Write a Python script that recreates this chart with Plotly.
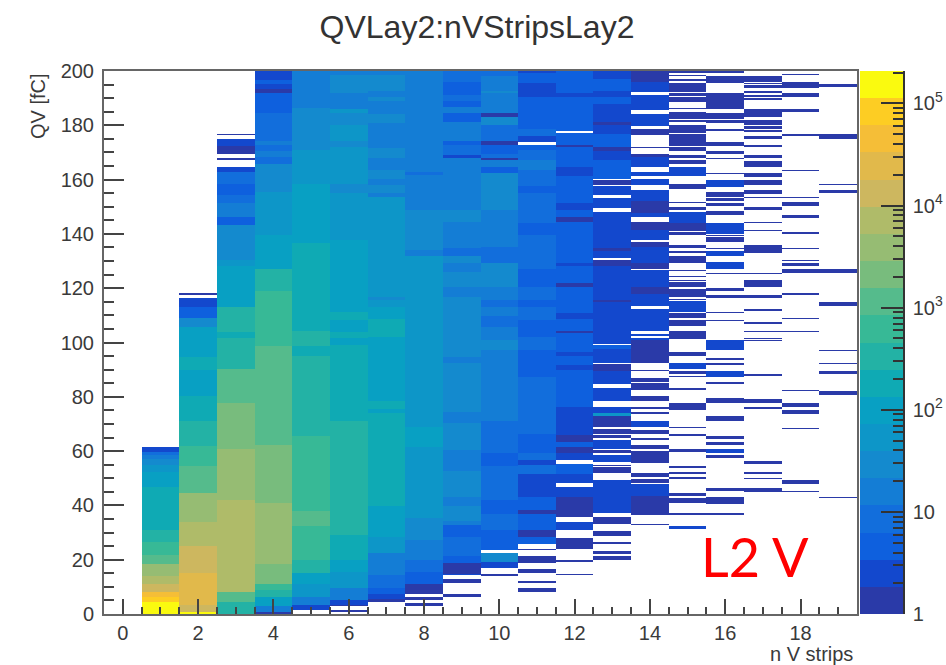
import numpy as np
import plotly.graph_objects as go

TITLE = "QVLay2:nVStripsLay2"
X_TITLE = "n V strips"
Y_TITLE = "QV [fC]"
TAG = "L2 V"
Q_MAX = 200.0
N_ROWS = 500
N_COLS = 20
Z_TOP = 2.08e5

# Dense columns: (upper Q edge, counts) going up from Q = 0; count 0 is an empty stretch.
col_01 = [(4.5,150000),(6.4,80000),(7.8,44000),(11.3,13000),(14,7000),(18.6,3800),(21.7,1100),(26.6,630),(30.9,350),
          (46.9,190),(52.4,100),(54.9,55),(57.3,30),(58.5,15),(59.8,8),(61.4,2)]
col_02 = [(0.8,150000),(3.3,13000),(15,24000),(25.4,13000),(34,7000),(44.4,3800),(54.2,1500),(62,630),(71,350),(80.6,190),
          (90.1,100),(94.8,190),(100.9,100),(105.8,100),(109.3,25),(113.2,5),(116.3,3),(117.7,0),(118.5,1)]
col_03 = [(4.5,350),(8.2,1100),(42,7000),(60.6,3800),(77.6,2000),(90.5,1100),(100.9,350),(101.5,350),(104,190),(113.2,350),
          (127.9,100),(130.4,55),(143.3,30),(146.3,5),(151.2,15),(154.3,8),(158.6,5),(162.9,8),(165,2),(167.2,0),(167.8,1),
          (169.4,0),(172.4,1),(174.8,3),(176.3,0),(176.8,1)]
col_04 = [(0.9,1),(2.7,15),(6.4,100),(9,350),(11.3,630),(18.4,2000),(40.7,3800),(62.2,2000),(93.8,1100),(98.7,1500),(118.7,630),
          (127.3,350),(130.4,100),(139.6,100),(155.6,55),(165.4,30),(168.4,8),(170.3,15),(172.7,8),(174.6,15),(184.4,8),
          (191.8,5),(193.2,1),(195.4,2),(196.7,5),(200.4,3)]
col_05 = [(1.7,0),(3.3,2),(6.4,15),(11.3,55),(15,100),(19.9,350),(32.4,630),(38,1500),(65.5,700),(95.4,350),(98.7,190),(104.6,350),
          (136.8,190),(158.6,100),(170.7,55),(186.3,30),(200.4,15)]
col_06 = [(0.8,0),(1.8,1),(2.7,0),(3.3,1),(5.1,2),(9.4,15),(15.6,40),(19.9,100),(29.1,190),(71.4,350),(99.4,190),(101.5,100),
          (104,190),(108.3,100),(111.4,190),(137.7,100),(144.5,55),(155,50),(158.6,30),(172.1,55),(174.6,30),(180.1,55),
          (184.4,30),(186.2,55),(191.8,15),(198.5,30),(200.4,15)]
col_07 = [(4.5,0),(5.4,1),(7,2),(9.4,5),(14.3,8),(22.3,12),(28.5,40),(39.5,100),(73.9,190),(75.7,100),(78.2,190),(79.4,100),
          (102.1,80),(108.9,150),(113.2,100),(115.6,55),(116.9,30),(153.7,55),(155,15),(158,30),(160.5,15),(163.5,30),
          (167.8,15),(171.5,30),(180.7,15),(183.8,30),(188.7,15),(190.5,30),(193,15),(198.5,30),(200.4,15)]
col_08 = [(2.9,0),(4.1,1),(5.1,0),(6.6,1),(7.3,0),(11.3,1),(15.6,5),(19.9,8),(27.2,20),(35.2,30),(61.6,55),(69,100),(85,70),
          (100.9,55),(108.9,70),(116.9,55),(132.2,40),(134.1,15),(148.8,30),(161.7,15),(162.9,8),(169.1,20),(200.4,15)]
col_09 = [(6.3,0),(7.3,1),(11.5,0),(12.7,1),(14.3,0),(14.9,2),(18.9,1),(21.1,5),(28.5,8),(32.7,5),(34.6,15),(39.5,30),(43.2,20),
          (53,30),(60.4,20),(70.2,30),(74.5,15),(92.3,30),(94.8,15),(100.9,30),(116.9,35),(120.5,15),(126.1,30),(129.1,15),
          (132.2,30),(134.7,8),(144.5,15),(148.8,30),(167.8,15),(169.1,2),(172.7,8),(174.6,5),(181.3,15),(184.4,5),(186.9,15),
          (188.7,5),(191.2,8),(196.1,5),(200.4,8)]
col_10 = [(14,0),(14.9,1),(16.8,0),(19.2,2),(22.3,30),(23.5,0),(30.9,5),(37,8),(41.9,5),(54.2,8),(59.2,5),(71.4,8),(97.2,15),
          (97.2,20),(100.9,30),(105.8,15),(109.5,8),(113.2,15),(115.6,8),(120.5,15),(129.1,30),(135.3,10),(142.6,18),(148.8,15),
          (162.3,30),(164.8,5),(167.2,15),(167.8,1),(169.7,8),(172.7,6),(174.6,1),(180.1,8),(183.4,30),(184.4,1),(191.8,15),
          (193,30),(197.9,15),(200.4,8)]
col_11 = [(8,0),(9.4,1),(11.5,0),(12.2,1),(15.2,0),(16.4,1),(18.9,0),(21.1,1),(23.5,0),(24.1,1),(25.7,0),(28.4,5),(30.9,1),(37,5),
          (38.3,1),(43.2,5),(49.3,3),(51.8,2),(54.9,8),(56.7,2),(59.2,8),(66.5,5),(87.4,8),(97.2,5),(102.1,8),(105.8,6),(108.3,5),
          (113.2,8),(115.6,5),(120.5,8),(124.8,6),(127.3,5),(139.6,8),(143.9,5),(155,10),(157.4,5),(163.5,8),(167.2,15),(170.9,8),
          (172.7,5),(174.2,0),(175.8,2),(178.9,8),(190.5,5),(195.5,2),(199.1,5),(200.4,2)]
col_12 = [(14.3,0),(14.9,1),(19.2,0),(19.9,1),(24.1,0),(28.2,1),(30.9,0),(34,2),(35.8,0),(43.2,1),(46.9,2),(48.4,0),(51.8,2),(55.2,5),
          (56.7,0),(59.2,2),(61.6,1),(63.4,5),(65.9,1),(76.3,2),(89.9,5),(91.7,2),(95.4,5),(96.6,2),(103.6,5),(104.6,1),(108.9,5),
          (110.7,2),(120.5,5),(122,1),(127.9,5),(129.1,2),(144.5,5),(146.3,1),(148.8,5),(151.2,2),(161.1,5),(164.8,2),(171.9,5),
          (172.7,1),(177.3,4),(178,0),(190.5,5),(191.8,2),(200.4,4)]

# Sparse columns: (lower Q edge, upper Q edge, counts).
col_13 = [(19.9,21.1,1),(22,23.3,1),(25.6,26.2,1),(29,30.6,1),(33.1,35.8,1),(37.3,49.3,2),(52,54,1),(54.2,54.9,1),(56.1,58.5,2),
          (59.4,60.4,1),(61,64.1,2),(64.7,65.9,1),(66.3,68,1),(68.7,72.7,1),(72.9,74.1,60),(74.1,76.3,2),(78.2,83.1,2),(84.9,89.8,2),
          (89.8,92,1),(92.3,97.8,2),(97.8,99.4,5),(99.7,114.8,2),(114.8,115.6,1),(115.6,127.9,2),(127.9,130.4,1),(131,133.4,2),
          (133.8,134.7,1),(134.7,147.8,2),(149.4,153.1,2),(154.3,157.6,2),(158,160.1,1),(160.5,167.2,5),(167.2,170.6,2),
          (170.6,172.1,1),(172.1,177,5),(177,179.9,2),(179.9,181.3,1),(181.3,188.1,2),(188.1,190.5,5),(190.5,193,2),(193,197.3,5),
          (197.3,200.4,2)]
col_14 = [(32.6,33.1,1),(36.4,43.8,1),(43.8,47.9,2),(48.3,49.6,1),(50.3,52,1),(55.5,60.1,1),(61,62.2,1),(64.1,64.7,1),(66.3,67.7,1),
          (69,71.1,2),(73.6,74.5,1),(75.5,76.3,1),(78.4,80.3,1),(82.5,85.2,1),(85.6,86.8,1),(89.6,90.1,1),(92.6,100.9,1),(100.9,101.4,2),
          (102.4,103.4,2),(104.6,112.5,2),(113.8,118.1,2),(118.1,120.5,1),(120.5,126.9,2),(127.3,129.1,1),(129.1,135.3,2),(135.3,137.1,1),
          (137.7,141.4,2),(141.4,144.4,1),(146.3,147.6,2),(147.6,151.9,1),(151.9,156.2,2),(158,160.5,2),(161.1,162.9,2),(164.8,168.4,2),
          (168.4,169.7,1),(171.5,172.1,1),(176.4,178.9,1),(179.5,183.8,2),(185.6,191.2,2),(192.4,196.1,2),(196.1,200.4,1)]
col_15 = [(31.1,32.4,2),(36.4,37.4,1),(41,42.9,1),(43.8,44.4,1),(49.6,50.3,1),(51.8,52.4,1),(53.6,54.2,1),(59.8,60.6,1),(65.7,66.2,1),
          (68.6,69,1),(75.1,77.6,1),(82.2,83.1,1),(87.2,87.6,1),(88.4,89.8,1),(90.5,92.3,2),(95.4,96.6,1),(101.1,104.3,1),(106.1,108.3,1),
          (109.3,110.7,1),(111.3,115.4,2),(115.6,116.2,1),(116.9,119.6,1),(120.5,122.4,1),(122.7,123.2,1),(124,124.5,1),(126.4,126.9,1),
          (129.1,132.2,1),(132.8,133.8,1),(134.7,136.2,1),(139.6,140.8,1),(141.2,143.9,1),(143.9,148.2,2),(149,150,1),(151,151.5,1),
          (156.4,158.4,1),(161.1,165,2),(165.7,167.2,1),(167.9,169.3,1),(170.6,171.9,1),(172.4,176.8,1),(177.3,180.1,1),(181.3,181.9,1),
          (182.6,183.8,1),(184.2,185,1),(185.9,186.3,1),(188.3,190.3,1),(190.8,191.8,1),(192.4,195.7,1),(196.4,197.3,1),(198.2,198.5,1),
          (199.1,199.8,1)]
col_16 = [(36.3,37.3,1),(40.5,43,1),(45.4,46.5,1),(57.5,58.5,1),(59.2,60.6,2),(62.2,63.4,1),(64.3,65.5,1),(71.4,72.7,1),(77.8,79.8,1),
          (84.7,85.6,1),(87.1,89.6,2),(91.7,92.3,1),(93.8,94.5,1),(97.2,100.9,2),(108,108.5,1),(110.7,111.3,1),(116.6,117.8,1),(118.7,119.9,1),
          (125.2,125.5,1),(127.3,129.8,2),(132.2,133.8,2),(134.3,134.7,1),(137.1,138.7,1),(139.2,139.6,1),(140.2,143.9,2),(146.8,148.5,1),
          (150.3,151.2,1),(151.9,153.1,1),(153.5,155.5,1),(157.1,159.8,2),(161.9,162.5,1),(167.5,167.8,1),(169.7,170.6,1),(172.4,174,1),
          (178,178.9,1),(180.9,181.9,1),(182.6,184.4,1),(186.2,191.8,1),(195.7,198.2,1),(199.1,200.1,1)]
col_17 = [(44.6,46.5,1),(49.6,50.1,1),(51.8,52.4,1),(55.2,56.4,1),(75.7,76.3,1),(77.8,79.4,1),(87.8,88.3,1),(100.5,100.9,1),(101.1,101.5,1),
          (103.8,104.3,1),(106.7,107.6,1),(111.7,112.5,1),(116.6,117.5,1),(120.3,123.2,1),(125.2,125.5,1),(132.8,135.9,1),(141.2,141.7,1),
          (144.1,144.5,1),(149,150,1),(153.3,153.7,1),(154.9,155.9,1),(158,159.8,1),(160.8,162.5,1),(165,166.9,1),(167.8,169.1,1),(172.1,172.7,1),
          (174.8,176,1),(177.6,178.5,1),(178.9,179.7,1),(180.1,181.9,1),(183.4,185.9,1),(189.1,189.9,1),(190.3,191.2,1),(191.8,193,1),
          (193.6,194.8,1),(195.2,195.7,1),(196.1,197.9,1)]
col_18 = [(44.8,45.3,1),(48.1,49.3,1),(67.9,68.4,1),(73.6,75.4,1),(76.3,77.6,1),(82,82.5,1),(103.8,104.3,1),(108.8,109.2,1),(117.8,118.3,1),
          (125.7,127.3,1),(127.9,129.1,1),(129.9,130.4,1),(134.3,134.7,1),(139.8,140.8,1),(146.2,146.7,1),(150.3,151.5,1),(153.3,153.7,1),
          (163,163.5,1),(176.2,176.8,1),(184.8,185.9,1),(190.5,191.8,1),(193.6,196.1,1),(198.3,198.9,1)]
col_19 = [(42.8,43.2,1),(80.9,81.9,1),(88.4,89.6,1),(91.9,92.3,1),(96.8,97.2,1),(113.8,114.9,1),(125.7,127.3,1),(155.2,155.9,1),
          (158.1,158.6,1),(174.9,176.8,1),(194.2,195.2,1)]

dense_columns = {1: col_01, 2: col_02, 3: col_03, 4: col_04, 5: col_05, 6: col_06, 7: col_07, 8: col_08,
                 9: col_09, 10: col_10, 11: col_11, 12: col_12}
sparse_columns = {13: col_13, 14: col_14, 15: col_15, 16: col_16, 17: col_17, 18: col_18, 19: col_19}

palette = ["#2a3aa8", "#1348cd", "#0e60de", "#126edc", "#147dd5", "#148ace", "#0d96c8", "#08a0c3",
           "#0faab4", "#23b2a5", "#37b996", "#55bb8c", "#78bc7d", "#96bc73", "#afbb69", "#cdb75f",
           "#e1b94b", "#f5be37", "#fdcd23", "#fafa0f"]

row_h = Q_MAX / N_ROWS
counts = np.zeros((N_ROWS, N_COLS))


def put(col, lo, hi, n):
    i0 = int(round(lo / row_h))
    i1 = max(i0 + 1, int(round(hi / row_h)))
    counts[i0:min(i1, N_ROWS), col] = n


for col, steps in dense_columns.items():
    lo = 0.0
    for top, n in steps:
        if top > lo:
            put(col, lo, top, n)
        lo = top
for col, runs in sparse_columns.items():
    for lo, hi, n in runs:
        put(col, lo, hi, n)

z = np.where(counts > 0, np.log10(np.where(counts > 0, counts, 1)), np.nan)
y_centers = (np.arange(N_ROWS) + 0.5) * row_h
x_centers = np.arange(N_COLS)

zmax = np.log10(Z_TOP)
scale = []
for k, c in enumerate(palette):
    scale += [[k / 20, c], [(k + 1) / 20, c]]

# The colour scale itself, drawn as a strip on a logarithmic axis so that its ticks lie over it.
band_edges = 10 ** np.linspace(0, zmax, len(palette) + 1)
band_levels = [[(k + 0.5) * zmax / len(palette)] for k in range(len(palette))]

W, H = 946, 665
L, R, T, B = 104, 857, 71, 614
dom_x = [L / W, R / W]
dom_y = [1 - B / H, 1 - T / H]
bar_left, bar_right = 860, 903
INK = "#3a3a3a"
FONT = "Liberation Sans"

fig = go.Figure()
fig.add_trace(go.Heatmap(
    x=x_centers, y=y_centers, z=z, zmin=0, zmax=zmax, zsmooth=False, colorscale=scale, hoverongaps=False,
    showscale=False,
))
fig.add_trace(go.Heatmap(
    x=[0, 1], y=band_edges, z=band_levels, zmin=0, zmax=zmax, zsmooth=False, colorscale=scale,
    showscale=False, xaxis="x2", yaxis="y2", hoverinfo="skip",
))

fig.update_layout(
    width=W, height=H, autosize=False, margin=dict(l=0, r=0, t=0, b=0, autoexpand=False),
    paper_bgcolor="white", plot_bgcolor="white", showlegend=False,
    font=dict(family=FONT, color=INK, size=20),
    title=dict(text=TITLE, x=477 / W, xanchor="center", xref="paper", y=1 - 27 / H, yanchor="middle",
               font=dict(size=32, color="#333333", family=FONT)),
    xaxis=dict(domain=dom_x, range=[-0.5, 19.5], tickmode="linear", tick0=0, dtick=2, ticks="inside", ticklen=15,
               tickwidth=2, tickcolor="#444444", showline=True, linewidth=2, linecolor="#666666", mirror=True,
               showgrid=False, zeroline=False, ticklabelstandoff=0,
               minor=dict(ticks="inside", ticklen=7, tickwidth=2, tickcolor="#444444", dtick=0.5, tick0=0, showgrid=False)),
    yaxis=dict(domain=dom_y, range=[0, Q_MAX], tickmode="linear", tick0=0, dtick=20, ticks="inside", ticklen=20,
               tickwidth=2, tickcolor="#444444", showline=True, linewidth=2, linecolor="#666666", mirror=True,
               showgrid=False, zeroline=False, ticklabelstandoff=4,
               minor=dict(ticks="inside", ticklen=10, tickwidth=2, tickcolor="#444444", dtick=5, tick0=0, showgrid=False)),
    xaxis2=dict(domain=[bar_left / W, bar_right / W], range=[0, 1], anchor="y2", visible=False),
    yaxis2=dict(domain=dom_y, anchor="x2", side="right", type="log",
                range=[0, zmax], tickmode="array", tickvals=[1, 10, 100, 1000, 10000, 100000],
                ticktext=["1", "10", "10<sup>2</sup>", "10<sup>3</sup>", "10<sup>4</sup>", "10<sup>5</sup>"],
                ticks="inside", ticklen=22, tickwidth=1.5, tickcolor="#333333", showline=True, linewidth=1.5,
                linecolor="#333333", showgrid=False, zeroline=False, ticklabelstandoff=4,
                minor=dict(ticks="inside", ticklen=10, tickwidth=1.5, tickcolor="#333333", showgrid=False,
                           tickmode="array",
                           tickvals=[m * 10 ** d for d in range(6) for m in range(2, 10) if m * 10 ** d < Z_TOP])),
    annotations=[
        dict(text=X_TITLE, xref="paper", yref="paper", x=855 / W, y=1 - 654 / H, xanchor="right", yanchor="middle",
             showarrow=False, font=dict(size=20, family=FONT, color=INK)),
        dict(text=Y_TITLE, xref="paper", yref="paper", x=38 / W, y=1 - 71 / H, xanchor="center", yanchor="top",
             textangle=-90, showarrow=False, font=dict(size=20, family=FONT, color=INK)),
        dict(text=TAG, xref="paper", yref="paper", x=755 / W, y=1 - 556 / H, xanchor="center", yanchor="middle",
             showarrow=False, font=dict(size=54, family="Lato", color="#ff0000")),
    ],
)

fig.write_html("out.html", config=dict(displayModeBar=False),
               post_script="document.body.style.margin='0';document.documentElement.style.overflow='hidden';")
